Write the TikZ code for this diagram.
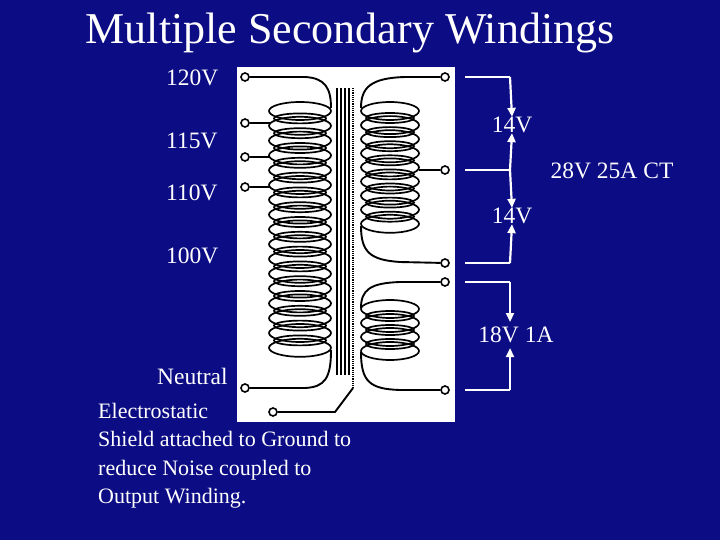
\documentclass[tikz,border=0pt]{standalone}
\usepackage{fontspec}
\setmainfont{Liberation Serif}
\usetikzlibrary{arrows.meta}
\definecolor{bg}{RGB}{12,12,132}
\begin{document}
\begin{tikzpicture}[x=1pt,y=-1pt,
  lbl/.style={text=white,font=\fontsize{23.5}{27}\selectfont,inner sep=0},
  wire/.style={black,line width=1.9pt},
  loop/.style={black,line width=1.7pt},
  term/.style={circle,draw=black,fill=white,line width=1.6pt,minimum size=8pt,inner sep=0},
  bw/.style={white,line width=2.2pt},
  ar/.style={white,line width=2.2pt,-{Triangle[width=8pt,length=9pt]}}]
\fill[bg] (0,0) rectangle (720,540);
\useasboundingbox (0,0) rectangle (720,540);
\fill[white] (237,67) rectangle (455,422);
\node[lbl,font=\fontsize{44}{48}\selectfont] (title) at (350,33) {Multiple Secondary Windings};
% primary coil
\foreach \i in {0,...,16} {
  \draw[loop] (300,111+\i*14.8) ellipse (31 and 9);
  \ifnum\i<16 \draw[loop] (300,118.4+\i*14.8) ellipse (26 and 5); \fi}
% secondary coils
\foreach \i in {0,...,8} {
  \draw[loop] (390,111+\i*14.1) ellipse (29 and 9);
  \ifnum\i<8 \draw[loop] (390,118+\i*14.1) ellipse (24 and 5); \fi}
\foreach \i in {0,...,3} {
  \draw[loop] (390,309+\i*14) ellipse (29 and 9);
  \ifnum\i<3 \draw[loop] (390,316+\i*14) ellipse (24 and 5); \fi}
% core
\foreach \x in {337,341,345,349} \draw[black,line width=1.6pt] (\x,88) -- (\x,375);
\draw[black,line width=1.2pt,densely dotted] (353,88) -- (353,388);
% terminals
\node[term] (p120) at (245,77) {};
\node[term] (p115) at (245,123) {};
\node[term] (p110) at (245,157) {};
\node[term] (p100) at (245,187) {};
\node[term] (pn) at (245,388) {};
\node[term] (sh) at (273,412) {};
\node[term] (s1) at (445,77) {};
\node[term] (s2) at (445,170) {};
\node[term] (s3) at (445,263) {};
\node[term] (s4) at (445,282) {};
\node[term] (s5) at (445,390) {};
% wires
\draw[wire] (p120) -- (305,77) .. controls (325,78) and (331,88) .. (331,108);
\draw[wire] (pn) -- (305,388) .. controls (325,387) and (331,378) .. (331,350);
\draw[wire] (p115) -- (270,123);
\draw[wire] (p110) -- (270,157);
\draw[wire] (p100) -- (270,187);
\draw[wire] (sh) -- (335,412) -- (353,388);
\draw[wire] (s1) -- (405,77) .. controls (370,78) and (361,88) .. (361,108);
\draw[wire] (s2) -- (419,170);
\draw[wire] (s3) -- (400,262) .. controls (370,260) and (361,252) .. (361,226);
\draw[wire] (s4) -- (400,282) .. controls (370,283) and (361,290) .. (361,308);
\draw[wire] (s5) -- (400,390) .. controls (370,389) and (361,382) .. (361,352);
% labels
\node[lbl,anchor=west] (l120) at (166,78) {120V};
\node[lbl,anchor=west] (l115) at (166,141) {115V};
\node[lbl,anchor=west] (l110) at (166,193) {110V};
\node[lbl,anchor=west] (l100) at (166,256) {100V};
\node[lbl,anchor=west] (lneu) at (157,376) {Neutral};
\node[lbl,anchor=north west,align=left,font=\fontsize{22}{28.5}\selectfont] (lsh) at (98,403) {Electrostatic\\Shield attached to Ground to\\reduce Noise coupled to\\Output Winding.};
\node[lbl] (v1) at (512,125) {14V};
\node[lbl] (v2) at (512,216) {14V};
\node[lbl] (v3) at (516,335) {18V 1A};
\node[lbl] (vct) at (612,171) {28V 25A CT};
% outer arrows
\draw[bw] (465,77) -- (510,77);
\draw[ar] (510,77) -- (v1.north);
\draw[ar] (510,170) -- (v1.south);
\draw[bw] (465,170) -- (510,170);
\draw[ar] (510,170) -- (v2.north);
\draw[ar] (510,263) -- (v2.south);
\draw[bw] (465,263) -- (510,263);
\draw[bw] (465,282) -- (510,282);
\draw[ar] (510,282) -- (510,322);
\draw[ar] (510,390) -- (510,348);
\draw[bw] (465,390) -- (510,390);
\end{tikzpicture}
\end{document}
